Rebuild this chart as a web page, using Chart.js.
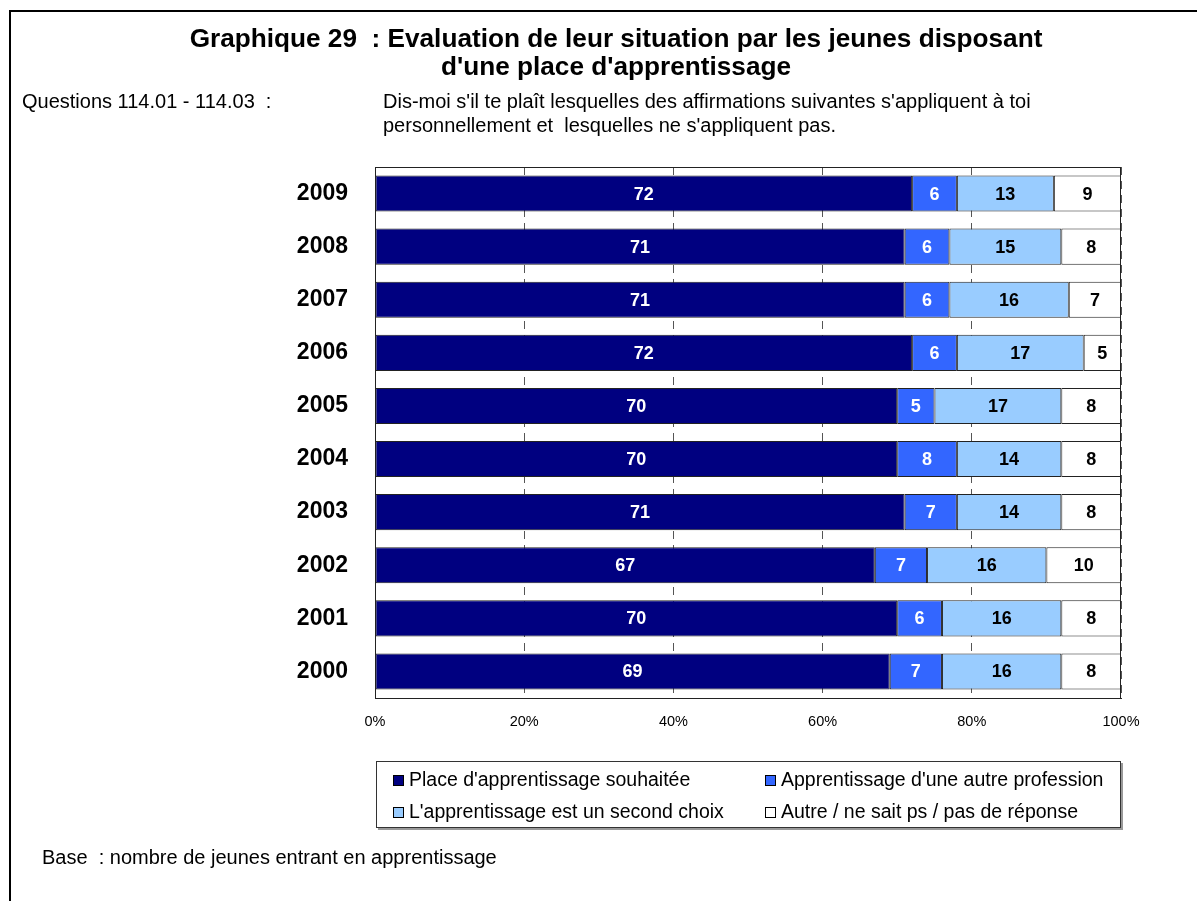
<!DOCTYPE html>
<html>
<head>
<meta charset="utf-8">
<script src="https://cdn.jsdelivr.net/npm/chart.js@4/dist/chart.umd.min.js"></script>
<style>
  body { margin: 0; background: #fff; font-family: "Liberation Sans", Arial, sans-serif; }
  #wrap { position: relative; width: 1197px; height: 901px; overflow: hidden; }
  #frame { position: absolute; left: 9px; top: 10px; width: 1200px; height: 900px;
           border-left: 2px solid #000; border-top: 2px solid #000; }
  .txt { position: absolute; color: #000; white-space: nowrap; }
  #title { left: 116px; width: 1000px; top: 24px; text-align: center; font-weight: bold;
           font-size: 26.2px; line-height: 28px; }
  #q { left: 22px; top: 89px; font-size: 20px; line-height: 24px; }
  #qtext { left: 383px; top: 89px; font-size: 20px; line-height: 24px; }
  #base { left: 42px; top: 845px; font-size: 20px; line-height: 24px; }
  canvas { position: absolute; left: 0; top: 0; }
</style>
</head>
<body>
<div id="wrap">
  <div id="frame"></div>
  <canvas id="chart" width="1197" height="901"></canvas>
  <div class="txt" id="title">Graphique 29&nbsp; : Evaluation de leur situation par les jeunes disposant<br>d'une place d'apprentissage</div>
  <div class="txt" id="q">Questions 114.01 - 114.03&nbsp; :</div>
  <div class="txt" id="qtext">Dis-moi s'il te plaît lesquelles des affirmations suivantes s'appliquent à toi<br>personnellement et&nbsp; lesquelles ne s'appliquent pas.</div>
  <div class="txt" id="base">Base&nbsp; : nombre de jeunes entrant en apprentissage</div>
</div>
<script>
var years = ["2009", "2008", "2007", "2006", "2005", "2004", "2003", "2002", "2001", "2000"];

var souhaitee = [72, 71, 71, 72, 70, 70, 71, 67, 70, 69];
var autreProfession = [6, 6, 6, 6, 5, 8, 7, 7, 6, 7];
var secondChoix = [13, 15, 16, 17, 17, 14, 14, 16, 16, 16];
var autre = [9, 8, 7, 5, 8, 8, 8, 10, 8, 8];

var xTicks = [0, 20, 40, 60, 80, 100];

var font = "'Liberation Sans', Arial, sans-serif";

// values written in the middle of each segment
var segmentLabels = {
    id: 'segmentLabels',
    afterDatasetsDraw: function(chart) {
        var ctx = chart.ctx;
        ctx.save();
        ctx.font = "bold 18px " + font;
        ctx.textAlign = "center";
        ctx.textBaseline = "middle";
        chart.data.datasets.forEach(function(ds, i) {
            var meta = chart.getDatasetMeta(i);
            meta.data.forEach(function(bar, j) {
                ctx.fillStyle = ds.labelColor;
                ctx.fillText(ds.data[j], (bar.x + bar.base) / 2, bar.y + 1);
            });
        });
        ctx.restore();
    }
};

// frame round the plot area
var plotBorder = {
    id: 'plotBorder',
    afterDatasetsDraw: function(chart) {
        var a = chart.chartArea;
        var ctx = chart.ctx;
        ctx.save();
        ctx.strokeStyle = "#222";
        ctx.lineWidth = 1;
        ctx.strokeRect(a.left + 0.5, a.top + 0.5, a.right - a.left - 1, a.bottom - a.top);
        ctx.restore();
    }
};

// legend box under the chart, two columns
var boxLegend = {
    id: 'boxLegend',
    afterDraw: function(chart) {
        var ctx = chart.ctx;
        var a = chart.chartArea;
        var bx = a.left + 1, by = 761, bw = a.right - a.left - 1, bh = 67;
        ctx.save();
        ctx.fillStyle = "#999";
        ctx.fillRect(bx + 2, by + 2, bw, bh);
        ctx.fillStyle = "#fff";
        ctx.fillRect(bx, by, bw, bh);
        ctx.strokeStyle = "#333";
        ctx.lineWidth = 1;
        ctx.strokeRect(bx + 0.5, by + 0.5, bw - 1, bh - 1);
        ctx.font = "19.5px " + font;
        ctx.textBaseline = "middle";
        chart.data.datasets.forEach(function(ds, i) {
            var x = bx + 17 + (i % 2) * 372;
            var y = by + 19 + Math.floor(i / 2) * 32;
            ctx.fillStyle = ds.backgroundColor;
            ctx.fillRect(x, y - 5, 11, 11);
            ctx.strokeStyle = "#000";
            ctx.strokeRect(x + 0.5, y - 4.5, 10, 10);
            ctx.fillStyle = "#000";
            ctx.fillText(ds.label, x + 16, y + 1);
        });
        ctx.restore();
    }
};

var ctx = document.getElementById("chart").getContext('2d');

var myChart = new Chart(ctx, {
    type: 'bar',
    data: {
        labels: years,
        datasets: [{
            label: "Place d'apprentissage souhaitée",
            data: souhaitee,
            backgroundColor: "#000080",
            labelColor: "#fff"
        }, {
            label: "Apprentissage d'une autre profession",
            data: autreProfession,
            backgroundColor: "#3366FF",
            labelColor: "#fff"
        }, {
            label: "L'apprentissage est un second choix",
            data: secondChoix,
            backgroundColor: "#99CCFF",
            labelColor: "#000"
        }, {
            label: "Autre / ne sait ps / pas de réponse",
            data: autre,
            backgroundColor: "#FFFFFF",
            labelColor: "#000"
        }]
    },
    options: {
        indexAxis: 'y',
        responsive: false,
        animation: false,
        layout: { padding: { top: 167, right: 76, left: 0, bottom: 0 } },
        datasets: {
            bar: {
                borderColor: "#222",
                borderWidth: 1,
                borderSkipped: false,
                categoryPercentage: 1,
                barPercentage: 0.68
            }
        },
        scales: {
            x: {
                stacked: true,
                min: 0,
                max: 100,
                afterBuildTicks: function(scale) {
                    scale.ticks = xTicks.map(function(v) { return { value: v }; });
                },
                afterFit: function(scale) { scale.height = 203; },
                grid: { color: "#555", lineWidth: 1, drawTicks: false },
                border: { display: true, color: "#222", dash: [8, 6] },
                ticks: {
                    padding: 15,
                    color: "#000",
                    font: { family: font, size: 14.5 },
                    callback: function(v) { return v + "%"; }
                }
            },
            y: {
                stacked: true,
                afterFit: function(scale) { scale.width = 375; },
                grid: { display: false },
                border: { display: true, color: "#222" },
                ticks: {
                    padding: 19,
                    color: "#000",
                    font: { family: font, size: 23, weight: 'bold' }
                }
            }
        },
        plugins: {
            legend: { display: false },
            tooltip: { enabled: false }
        }
    },
    plugins: [segmentLabels, plotBorder, boxLegend]
});
</script>
</body>
</html>
